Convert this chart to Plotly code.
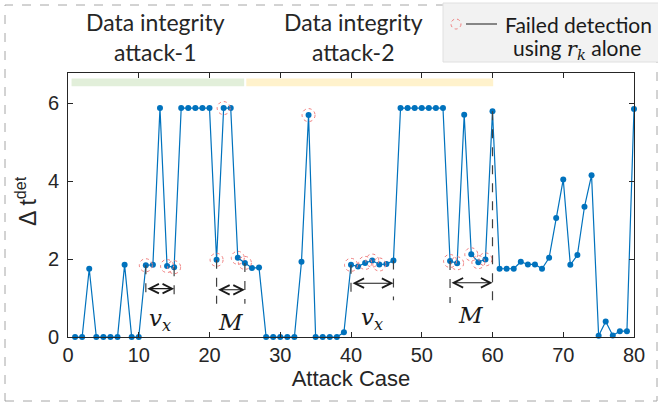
import plotly.graph_objects as go

# ---------------- data ----------------
attack_case = list(range(1, 81))
delta_t_det = [
    0, 0, 1.75, 0, 0, 0, 0, 1.85, 0, 0,
    1.84, 1.85, 5.87, 1.82, 1.79, 5.87, 5.87, 5.87, 5.87, 5.87,
    1.98, 5.87, 5.87, 2.03, 1.90, 1.77, 1.78, 0, 0, 0,
    0, 0, 1.93, 5.69, 0, 0, 0, 0, 0.12, 1.85,
    1.81, 1.90, 1.96, 1.86, 1.87, 1.96, 5.87, 5.87, 5.87, 5.87,
    5.87, 5.87, 5.87, 1.95, 1.89, 5.70, 2.12, 1.92, 1.99, 5.79,
    1.75, 1.75, 1.75, 1.93, 1.86, 1.86, 1.75, 2.03, 3.05, 4.04,
    1.85, 2.10, 3.34, 4.15, 0.03, 0.40, 0.04, 0.15, 0.15, 5.85,
]
failed_cases = [11, 14, 15, 21, 22, 24, 25, 34, 40, 42, 43, 44, 54, 55, 57, 58, 59]

# interval annotations: (start case, end case, label)
intervals = [
    (11, 15, "<i>v</i><sub><i>x</i></sub>"),
    (21, 25, "<i>M</i>"),
    (40, 46, "<i>v</i><sub><i>x</i></sub>"),
    (54, 60, "<i>M</i>"),
]
attack_regions = [
    (0.5, 24.9, "Data integrity<br>attack-1", "#e2efda", 12.35),
    (25.2, 60.1, "Data integrity<br>attack-2", "#fff2cc", 40.3),
]
x_ticks = [0, 10, 20, 30, 40, 50, 60, 70, 80]
y_ticks = [0, 2, 4, 6]

# ---------------- layout constants ----------------
W_FIG, H_FIG = 658, 405
ML, MR, MT, MB = 68, 24, 73, 68
PW = W_FIG - ML - MR
PH = H_FIG - MT - MB
def pxx(px):
    return (px - ML) / PW
def pxy(py):
    return (H_FIG - MB - py) / PH

BLUE = "#0072BD"
AXC = "#262626"
TXT_FONT = "Lato"
AX_FONT = "Liberation Sans"

fig = go.Figure()
fig.add_trace(go.Scatter(
    x=attack_case, y=delta_t_det, mode="lines+markers",
    line=dict(color=BLUE, width=1.2),
    marker=dict(color=BLUE, size=6),
    cliponaxis=False, showlegend=False, hoverinfo="skip",
))

shapes = []
annotations = []

# outer dashed frame
shapes.append(dict(type="rect", xref="paper", yref="paper",
                   x0=pxx(5), x1=pxx(657), y0=pxy(401), y1=pxy(5),
                   line=dict(color="#a6a6a6", width=1, dash="dash"), layer="below"))

# attack region bars + titles
for x0, x1, label, col, xc in attack_regions:
    shapes.append(dict(type="rect", xref="x", yref="y", x0=x0, x1=x1, y0=6.43, y1=6.63,
                       fillcolor=col, line=dict(width=0), layer="below"))
    annotations.append(dict(x=xc, xref="x", y=pxy(37), yref="paper", text=label,
                            showarrow=False, xanchor="center", yanchor="middle",
                            font=dict(family=TXT_FONT, size=23, color=AXC)))

# failed detection circles
for c in failed_cases:
    yv = delta_t_det[attack_case.index(c)]
    shapes.append(dict(type="circle", xref="x", yref="y", xsizemode="pixel", ysizemode="pixel",
                       xanchor=c, yanchor=yv, x0=-6.5, x1=6.5, y0=-6.5, y1=6.5,
                       line=dict(color="#f08080", width=1, dash="dot")))

# interval annotations
arrow_y = [1.24, 1.21, 1.38, 1.39]
dash_bottom = [1.0, 0.85, 0.94, 0.87]
label_y = [0.86, 0.78, 0.9, 0.95]
for (a, b, lab), ay, db, ly in zip(intervals, arrow_y, dash_bottom, label_y):
    for c in (a, b):
        yv = delta_t_det[attack_case.index(c)]
        shapes.append(dict(type="line", xref="x", yref="y", x0=c, x1=c, y0=yv, y1=db,
                           line=dict(color="#404040", width=1.2, dash="dash")))
    annotations.append(dict(x=b, y=ay, ax=a, ay=ay, xref="x", yref="y", axref="x", ayref="y",
                            text="", showarrow=True, arrowhead=5, startarrowhead=5,
                            arrowside="end+start", arrowsize=1.7, startarrowsize=1.7,
                            arrowwidth=1.1, arrowcolor="#1a1a1a"))
    annotations.append(dict(x=(a + b) / 2, y=ly, xref="x", yref="y", text=lab,
                            showarrow=False, yanchor="top",
                            font=dict(family="DejaVu Serif", size=23, color="#1a1a1a")))

# legend box
shapes.append(dict(type="rect", xref="paper", yref="paper",
                   x0=pxx(443), x1=pxx(662), y0=pxy(62), y1=pxy(3),
                   fillcolor="#f2f2f2", line=dict(color="#e0e0e0", width=1)))
shapes.append(dict(type="circle", xref="paper", yref="paper",
                   x0=pxx(451), x1=pxx(461), y0=pxy(29), y1=pxy(19),
                   line=dict(color="#f08080", width=1, dash="dot")))
shapes.append(dict(type="line", xref="paper", yref="paper",
                   x0=pxx(466), x1=pxx(497), y0=pxy(24), y1=pxy(24),
                   line=dict(color="#1a1a1a", width=1)))
annotations.append(dict(x=pxx(503), y=pxy(24), xref="paper", yref="paper",
                        text="Failed detection", showarrow=False, xanchor="left", yanchor="middle",
                        font=dict(family=TXT_FONT, size=21, color="#1a1a1a")))
annotations.append(dict(x=pxx(511), y=pxy(49), xref="paper", yref="paper",
                        text="using <span style='font-family:DejaVu Serif'><i>r</i><sub><i>k</i></sub></span> alone",
                        showarrow=False, xanchor="left", yanchor="middle",
                        font=dict(family=TXT_FONT, size=21, color="#1a1a1a")))

# y-axis title
annotations.append(dict(x=pxx(26), y=pxy(201), xref="paper", yref="paper",
                        text="Δ t<sup>det</sup>", textangle=-90, showarrow=False,
                        xanchor="center", yanchor="middle",
                        font=dict(family=AX_FONT, size=23, color=AXC)))

fig.update_layout(
    width=W_FIG, height=H_FIG,
    margin=dict(l=ML, r=MR, t=MT, b=MB),
    paper_bgcolor="white", plot_bgcolor="white",
    shapes=shapes, annotations=annotations,
    xaxis=dict(range=[0, 80], tickvals=x_ticks, ticks="inside", ticklen=5, tickcolor=AXC,
               showline=True, linecolor=AXC, linewidth=1, mirror="ticks", showgrid=False,
               zeroline=False, tickfont=dict(family=AX_FONT, size=20, color=AXC),
               title=dict(text="Attack Case", font=dict(family=AX_FONT, size=22, color=AXC), standoff=4)),
    yaxis=dict(range=[0, 6.77], tickvals=y_ticks, ticks="inside", ticklen=5, tickcolor=AXC,
               showline=True, linecolor=AXC, linewidth=1, mirror="ticks", showgrid=False,
               zeroline=False, ticklabelstandoff=4,
               tickfont=dict(family=AX_FONT, size=20, color=AXC)),
)

fig.write_html("out.html")
